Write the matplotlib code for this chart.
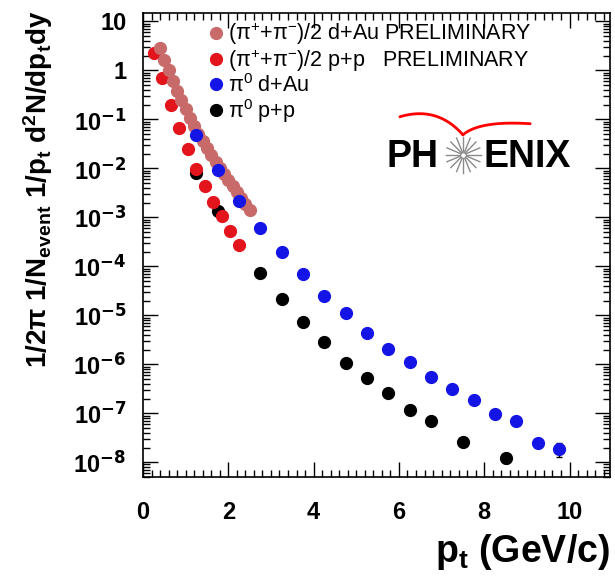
import numpy as np
import matplotlib.pyplot as plt
from matplotlib import ticker

plt.rcParams['font.family'] = ['Liberation Sans', 'DejaVu Sans']
plt.rcParams['mathtext.default'] = 'regular'

# (pi+ + pi-)/2 d+Au, preliminary
pt_pipm_dau = [0.4, 0.5, 0.6, 0.7, 0.8, 0.9, 1.0, 1.1, 1.2, 1.3, 1.4,
               1.5, 1.6, 1.7, 1.8, 1.9, 2.0, 2.1, 2.2, 2.3, 2.4, 2.5]
y_pipm_dau = [2.8, 1.64, 1.0, 0.6, 0.38, 0.245, 0.16, 0.108, 0.073, 0.0506,
              0.0357, 0.0257, 0.0187, 0.0137, 0.0101, 0.0076, 0.0057, 0.0043,
              0.00325, 0.00248, 0.00189, 0.00144]

# (pi+ + pi-)/2 p+p, preliminary
pt_pipm_pp = [0.25, 0.45, 0.65, 0.85, 1.05, 1.25, 1.45, 1.65, 1.85, 2.05, 2.25]
y_pipm_pp = [2.3, 0.69, 0.20, 0.067, 0.0245, 0.0098, 0.0044, 0.0021,
             0.00105, 0.00053, 0.00027]

# pi0 d+Au
pt_pi0_dau = [1.25, 1.75, 2.25, 2.75, 3.25, 3.75, 4.25, 4.75, 5.25, 5.75,
              6.25, 6.75, 7.25, 7.75, 8.25, 8.75, 9.25, 9.75]
y_pi0_dau = [0.048, 0.0093, 0.00215, 6.0e-4, 1.96e-4, 6.9e-5, 2.5e-5, 1.09e-5,
             4.4e-6, 2.1e-6, 1.1e-6, 5.6e-7, 3.2e-7, 1.87e-7, 9.5e-8, 6.9e-8,
             2.5e-8, 1.9e-8]
relerr_pi0_dau = [0.04, 0.04, 0.04, 0.04, 0.04, 0.04, 0.04, 0.05, 0.05, 0.05,
                  0.05, 0.06, 0.06, 0.07, 0.08, 0.1, 0.15, 0.33]

# pi0 p+p
pt_pi0_pp = [1.25, 1.75, 2.75, 3.25, 3.75, 4.25, 4.75, 5.25, 5.75,
             6.25, 6.75, 7.5, 8.5]
y_pi0_pp = [8.2e-3, 1.34e-3, 7.2e-5, 2.2e-5, 7.4e-6, 2.8e-6, 1.08e-6,
            5.2e-7, 2.6e-7, 1.17e-7, 6.9e-8, 2.6e-8, 1.2e-8]
relerr_pi0_pp = [0.04, 0.04, 0.04, 0.04, 0.04, 0.05, 0.05, 0.05, 0.06,
                 0.06, 0.07, 0.1, 0.2]

c_dau = '#c86a6a'
c_pp = '#e3141b'
c_pi0_dau = '#1414e6'

fig = plt.figure(figsize=(6.15, 5.81), dpi=100)
ax = fig.add_axes([0.2325, 0.179, 0.7595, 0.799])

ms = 8.5
y = np.array(y_pi0_pp)
ax.errorbar(pt_pi0_pp, y, yerr=y * np.array(relerr_pi0_pp), fmt='o', color='black',
            ms=ms, ecolor='black', elinewidth=1, capsize=2.5, zorder=2)
ax.plot(pt_pipm_pp, y_pipm_pp, 'o', color=c_pp, ms=ms, zorder=3)
ax.plot(pt_pipm_dau, y_pipm_dau, 'o', color=c_dau, ms=ms, zorder=4)
y = np.array(y_pi0_dau)
ax.errorbar(pt_pi0_dau, y, yerr=y * np.array(relerr_pi0_dau), fmt='o', color=c_pi0_dau,
            ms=ms, ecolor='black', elinewidth=1, capsize=2.5, zorder=5)

ax.set_yscale('log')
ax.set_xlim(0, 10.95)
ax.set_ylim(5e-9, 15)

ax.xaxis.set_major_locator(ticker.MultipleLocator(2))
ax.xaxis.set_minor_locator(ticker.MultipleLocator(0.2))
ax.yaxis.set_major_locator(ticker.LogLocator(base=10, numticks=20))
ax.yaxis.set_minor_locator(ticker.LogLocator(base=10, subs=np.arange(2, 10), numticks=20))


def ylab(v, pos):
    e = int(round(np.log10(v)))
    if e == 1:
        return '10'
    if e == 0:
        return '1'
    return r'10$^{\mathbf{%d}}$' % e


ax.yaxis.set_major_formatter(ticker.FuncFormatter(ylab))
ax.yaxis.set_minor_formatter(ticker.NullFormatter())
ax.tick_params(which='both', direction='in', top=True, right=True, width=1)
ax.tick_params(which='major', length=11)
ax.tick_params(which='minor', length=5)
ax.tick_params(axis='x', pad=17, labelsize=17)
ax.tick_params(axis='y', pad=12, labelsize=17)
for lab in ax.get_xticklabels() + ax.get_yticklabels():
    lab.set_fontweight('bold')
for s in ax.spines.values():
    s.set_linewidth(1.2)

fig.text(0.062, 0.675,
         r'1/2$\pi$ 1/N$_{event}$ 1/p$_{t}$ d$^{2}$N/dp$_{t}$dy',
         rotation=90, ha='center', va='center', fontsize=20, fontweight='bold')
fig.text(0.992, 0.033, r'p$_{t}$ (GeV/c)', ha='right', va='baseline',
         fontsize=27, fontweight='bold')

# legend
handles = [plt.Line2D([], [], ls='', marker='o', color=c, ms=ms)
           for c in (c_dau, c_pp, c_pi0_dau, 'black')]
labels = [r'($\pi^{+}$+$\pi^{-}$)/2 d+Au PRELIMINARY',
          r'($\pi^{+}$+$\pi^{-}$)/2 p+p   PRELIMINARY',
          r'$\pi^{0}$ d+Au',
          r'$\pi^{0}$ p+p']
ax.legend(handles, labels, loc='upper left', bbox_to_anchor=(0.1, 1.015),
          frameon=False, fontsize=15.5, handletextpad=0.1, labelspacing=0.0,
          handlelength=1.0, borderaxespad=0.3)

# PHENIX logo
ax.text(0.522, 0.668, 'PH', transform=ax.transAxes, fontsize=27,
        fontweight='bold', ha='left', va='baseline')
ax.text(0.73, 0.668, 'ENIX', transform=ax.transAxes, fontsize=27,
        fontweight='bold', ha='left', va='baseline')
cx, cy = 0.686, 0.694
for a in np.linspace(0, np.pi, 8, endpoint=False):
    dx, dy = 0.038 * np.cos(a), 0.039 * np.sin(a)
    ax.plot([cx - dx, cx + dx], [cy - dy, cy + dy], color='#8a8a8a', lw=1,
            transform=ax.transAxes, zorder=6)
ax.plot(cx, cy, 'o', ms=4, mfc='white', mec='#8a8a8a', mew=0.8,
        transform=ax.transAxes, zorder=7)


def bezier(p0, p1, p2, n=40):
    t = np.linspace(0, 1, n)[:, None]
    pts = (1 - t) ** 2 * np.array(p0) + 2 * (1 - t) * t * np.array(p1) + t ** 2 * np.array(p2)
    return pts[:, 0], pts[:, 1]


for seg in [((0.550, 0.776), (0.63, 0.80), (0.685, 0.737)),
            ((0.685, 0.737), (0.72, 0.768), (0.829, 0.761))]:
    bx, by = bezier(*seg)
    ax.plot(bx, by, color='red', lw=2, transform=ax.transAxes, zorder=6,
            solid_capstyle='round')

fig.savefig('out.png', dpi=100)
